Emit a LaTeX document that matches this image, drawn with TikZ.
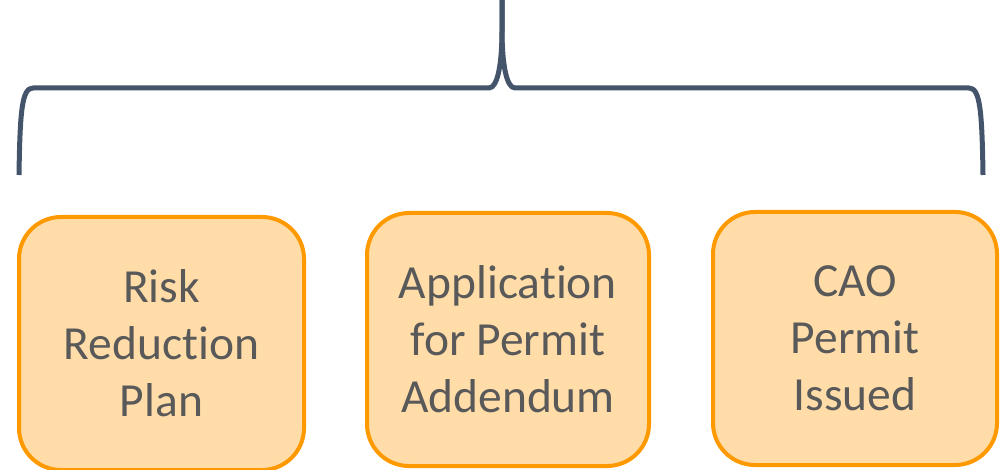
\documentclass[tikz,border=0pt]{standalone}
\usepackage{fontspec}
\setmainfont{Carlito}[Ligatures={NoCommon,NoContextual}]
\definecolor{braceclr}{HTML}{44546A}
\definecolor{boxfill}{HTML}{FFDCA8}
\definecolor{boxline}{HTML}{FF9900}
\definecolor{txtclr}{HTML}{595959}
\newcommand{\tisep}{t\kern0pt i}
\begin{document}
\begin{tikzpicture}[x=1pt,y=-1pt,
  stepbox/.style={draw=boxline,fill=boxfill,line width=4pt,rounded corners=42pt,
    minimum height=253pt,align=center,text=txtclr,
    font=\fontsize{47.5}{57}\selectfont},
  bracestyle/.style={draw=braceclr,line width=5pt,line join=round}]
\useasboundingbox (0,0) rectangle (1003,470);
\coordinate (top) at (502,0);
\coordinate (lend) at (19,175);
\coordinate (rend) at (983,175);
\draw[bracestyle] (top) -- (502,30) .. controls (502,62) and (498,88) .. (489,88)
  -- (33,88) .. controls (22,88) and (20,110) .. (lend);
\draw[bracestyle] (top) -- (502,30) .. controls (502,62) and (506,88) .. (515,88)
  -- (969,88) .. controls (980,88) and (982,110) .. (rend);
\node[stepbox,minimum width=285pt] (b1) at (161.5,343.5) {Risk\\Reduc\tisep on\\Plan};
\node[stepbox,minimum width=282pt] (b2) at (508,339.5) {Applica\tisep on\\for Permit\\Addendum};
\node[stepbox,minimum width=284pt] (b3) at (855,338.5) {CAO\\Permit\\Issued};
\end{tikzpicture}
\end{document}
